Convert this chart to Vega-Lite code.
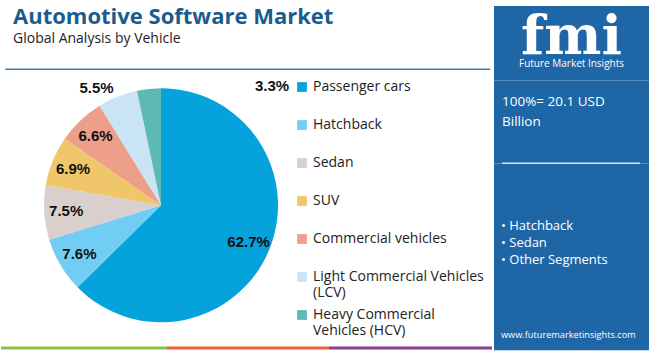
{
  "$schema": "https://vega.github.io/schema/vega-lite/v6.json",
  "padding": {"top": 0, "left": 0, "right": 2, "bottom": 1},
  "spacing": 0,
  "config": {"view": {"stroke": null}, "font": "Open Sans"},
  "hconcat": [
    {
      "spacing": 5.25,
      "vconcat": [
        {
          "width": 491,
          "height": 68.25,
          "data": {"values": []},
          "mark": "point",
          "view": {"stroke": "#3a7db5", "strokeWidth": 1.5, "strokeDash": [0, 561, 485, 72.5], "fill": null},
          "title": {
            "text": "Automotive Software Market",
            "subtitle": "Global Analysis by Vehicle",
            "anchor": "start",
            "frame": "group",
            "orient": "top",
            "offset": -46,
            "dx": 12,
            "fontSize": 22,
            "fontWeight": "bold",
            "color": "#1b5c8e",
            "subtitleFontSize": 14,
            "subtitleColor": "#222222",
            "subtitlePadding": 3
          }
        },
        {
          "spacing": 0,
          "hconcat": [
            {
              "width": 320,
              "height": 260,
              "data": {
                "values": [
                  {"vehicle": "Passenger cars", "share": 0.627},
                  {"vehicle": "Hatchback", "share": 0.076},
                  {"vehicle": "Sedan", "share": 0.075},
                  {"vehicle": "SUV", "share": 0.069},
                  {"vehicle": "Commercial vehicles", "share": 0.066},
                  {"vehicle": "Light Commercial Vehicles (LCV)", "share": 0.055},
                  {"vehicle": "Heavy Commercial Vehicles (HCV)", "share": 0.033}
                ]
              },
              "encoding": {
                "theta": {"field": "share", "type": "quantitative", "stack": true},
                "order": {"field": "share", "sort": "descending"}
              },
              "layer": [
                {
                  "mark": {"type": "arc", "outerRadius": 117},
                  "encoding": {
                    "color": {
                      "field": "vehicle",
                      "type": "nominal",
                      "sort": null,
                      "scale": {
                        "domain": ["Passenger cars", "Hatchback", "Sedan", "SUV", "Commercial vehicles", "Light Commercial Vehicles (LCV)", "Heavy Commercial Vehicles (HCV)"],
                        "range": ["#05a2dc", "#72cdf4", "#d9cfcc", "#f0c66b", "#ee9f8a", "#c9e4f5", "#5fb9b3"]
                      },
                      "legend": {
                        "title": null,
                        "orient": "none",
                        "legendX": 294,
                        "legendY": 79,
                        "symbolType": "square",
                        "symbolSize": 95,
                        "symbolStrokeWidth": 0,
                        "symbolOpacity": 1,
                        "labelFontSize": 14,
                        "labelColor": "#222222",
                        "labelLimit": 300,
                        "labelOffset": 4,
                        "gridAlign": "all",
                        "rowPadding": 8,
                        "padding": 0,
                        "labelExpr": "datum.label == 'Light Commercial Vehicles (LCV)' ? ['Light Commercial Vehicles', '(LCV)'] : datum.label == 'Heavy Commercial Vehicles (HCV)' ? ['Heavy Commercial', 'Vehicles (HCV)'] : datum.label"
                      }
                    }
                  }
                },
                {
                  "mark": {"type": "text", "radius": 95, "fontSize": 15, "fontWeight": "bold", "font": "Liberation Sans", "color": "#111111"},
                  "encoding": {
                    "text": {"condition": {"test": "datum.share >= 0.06", "field": "share", "type": "quantitative", "format": ".1%"}, "value": ""}
                  }
                },
                {
                  "transform": [
                    {"stack": "share", "groupby": [], "sort": [{"field": "share", "order": "descending"}], "as": ["s0", "s1"]},
                    {"filter": "datum.vehicle == 'Light Commercial Vehicles (LCV)'"}
                  ],
                  "mark": {"type": "text", "radius": 138, "dx": 8, "fontSize": 15, "fontWeight": "bold", "font": "Liberation Sans", "color": "#111111"},
                  "encoding": {
                    "theta": {"field": "s0", "type": "quantitative", "stack": null},
                    "text": {"field": "share", "type": "quantitative", "format": ".1%"}
                  }
                },
                {
                  "transform": [
                    {"stack": "share", "groupby": [], "sort": [{"field": "share", "order": "descending"}], "as": ["s0", "s1"]},
                    {"filter": "datum.vehicle == 'Heavy Commercial Vehicles (HCV)'"}
                  ],
                  "mark": {"type": "text", "radius": 119, "dx": 111, "fontSize": 15, "fontWeight": "bold", "font": "Liberation Sans", "color": "#111111"},
                  "encoding": {
                    "theta": {"field": "s1", "type": "quantitative", "stack": null},
                    "text": {"field": "share", "type": "quantitative", "format": ".1%"}
                  }
                }
              ]
            },
            {"width": 1, "height": 266, "data": {"values": []}, "mark": "point"}
          ]
        },
        {
          "width": 491,
          "height": 3,
          "data": {"values": []},
          "mark": "point",
          "view": {
            "stroke": null,
            "fill": {
              "gradient": "linear",
              "x1": 0, "x2": 1, "y1": 0, "y2": 0,
              "stops": [
                {"offset": 0, "color": "#87c14b"},
                {"offset": 0.338, "color": "#87c14b"},
                {"offset": 0.338, "color": "#e8623c"},
                {"offset": 0.669, "color": "#e8623c"},
                {"offset": 0.669, "color": "#8c3b95"},
                {"offset": 1, "color": "#8c3b95"}
              ]
            }
          }
        }
      ]
    },
    {
      "spacing": -0.75,
      "vconcat": [
        {"width": 155, "height": 4.75, "data": {"values": []}, "mark": "point"},
        {
          "width": 155,
          "height": 74.75,
          "data": {"values": []},
          "mark": "point",
          "view": {"fill": "#1f66a6", "stroke": null},
          "title": {
            "text": "fmi",
            "subtitle": "Future Market Insights",
            "anchor": "middle",
            "frame": "group",
            "offset": -63,
            "font": "DejaVu Serif",
            "fontSize": 54,
            "fontWeight": "bold",
            "color": "#ffffff",
            "subtitleFont": "Open Sans",
            "subtitleFontSize": 10,
            "subtitleColor": "#ffffff",
            "subtitlePadding": -6
          }
        },
        {
          "width": 155,
          "height": 82,
          "data": {"values": []},
          "mark": "point",
          "view": {"fill": "#1f66a6", "stroke": null},
          "title": {
            "text": ["100%= 20.1 USD", "Billion"],
            "anchor": "start",
            "frame": "group",
            "offset": -47,
            "dx": 8,
            "fontSize": 13.5,
            "fontWeight": "normal",
            "lineHeight": 20,
            "color": "#ffffff"
          }
        },
        {
          "width": 155,
          "height": 187,
          "data": {"values": []},
          "mark": "point",
          "view": {"fill": "#1f66a6", "stroke": "#d6e3ef", "strokeWidth": 1.5, "strokeDash": [0, 8, 138, 538]},
          "title": {
            "text": ["• Hatchback", "• Sedan", "• Other Segments"],
            "subtitle": "www.futuremarketinsights.com",
            "anchor": "start",
            "frame": "group",
            "offset": -176.5,
            "dx": 7,
            "fontSize": 13,
            "fontWeight": "normal",
            "lineHeight": 17,
            "color": "#ffffff",
            "subtitleFontSize": 9.2,
            "subtitleColor": "#ffffff",
            "subtitlePadding": 64
          }
        }
      ]
    }
  ]
}
